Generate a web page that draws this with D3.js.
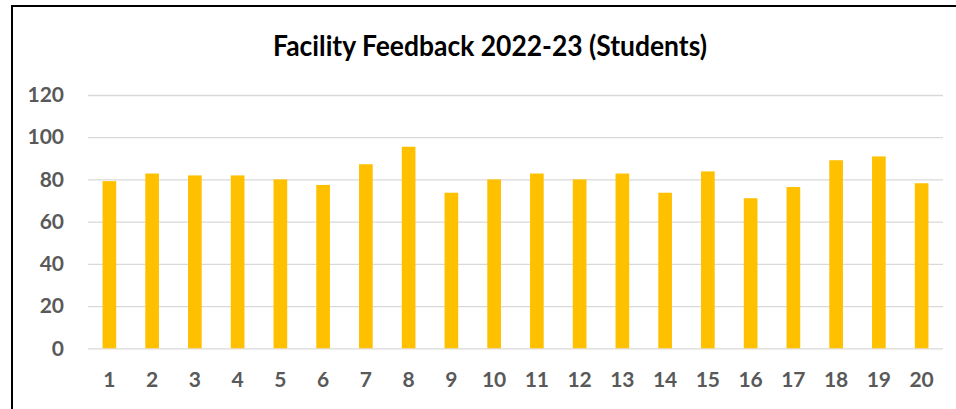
<!DOCTYPE html>
<html>
<head>
<meta charset="utf-8">
<script src="https://cdn.jsdelivr.net/npm/d3@7"></script>
<style>
  html, body { margin: 0; padding: 0; background: #fff; }
  svg { display: block; }
</style>
</head>
<body>
<svg id="chart" width="956" height="409"></svg>
<script>
const title = "Facility Feedback 2022-23 (Students)";
const categories = ["1","2","3","4","5","6","7","8","9","10","11","12","13","14","15","16","17","18","19","20"];
const values = [79.2, 82.8, 81.9, 81.9, 80, 77.4, 87.2, 95.5, 73.7, 80, 82.8, 80, 82.8, 73.7, 83.8, 71.1, 76.4, 89.1, 90.9, 78.2];
const yTicks = [0, 20, 40, 60, 80, 100, 120];

(function () {
const svg = d3.select("#chart");
const W = 956, H = 409;
const mLeft = 88, mRight = 943, mTop = 95, mBottom = 348.3;

svg.append("rect").attr("x", 0).attr("y", 0).attr("width", W).attr("height", H).attr("fill", "#fff");
// chart border (extends past right/bottom edges)
svg.append("rect").attr("x", 12).attr("y", 6).attr("width", 1000).attr("height", 500)
  .attr("fill", "none").attr("stroke", "#000").attr("stroke-width", 2);

const x = d3.scaleBand().domain(categories).range([mLeft, mRight]).paddingInner(0.68).paddingOuter(0.34);
const y = d3.scaleLinear().domain([0, 120]).range([mBottom, mTop]);

const font = "Lato, 'Open Sans', 'DejaVu Sans', sans-serif";

// gridlines + y axis
const yAxis = svg.append("g").attr("transform", `translate(${mLeft},0)`)
  .call(d3.axisLeft(y).tickValues(yTicks).tickSize(-(mRight - mLeft)).tickPadding(24));
yAxis.select(".domain").remove();
yAxis.selectAll(".tick line").attr("stroke", "#d9d9d9").attr("stroke-width", 1.3);
yAxis.selectAll(".tick text").attr("fill", "#595959").attr("font-family", font)
  .attr("font-weight", "bold").attr("font-size", 21);

// bars
svg.append("g").selectAll("rect").data(values).join("rect")
  .attr("x", (d, i) => x(categories[i]))
  .attr("y", d => y(d))
  .attr("width", x.bandwidth())
  .attr("height", d => y(0) - y(d))
  .attr("fill", "#FFC000");

// x axis
const xAxis = svg.append("g").attr("transform", `translate(0,${mBottom})`)
  .call(d3.axisBottom(x).tickSize(0).tickPadding(24));
xAxis.select(".domain").remove();
xAxis.selectAll(".tick text").attr("fill", "#595959").attr("font-family", font)
  .attr("font-weight", "bold").attr("font-size", 21);

// title
svg.append("text").attr("x", 490).attr("y", 56).attr("text-anchor", "middle")
  .attr("font-family", font).attr("font-weight", "bold").attr("font-size", 28)
  .attr("fill", "#000").attr("textLength", 434).attr("lengthAdjust", "spacingAndGlyphs")
  .text(title);
})();
</script>
</body>
</html>
